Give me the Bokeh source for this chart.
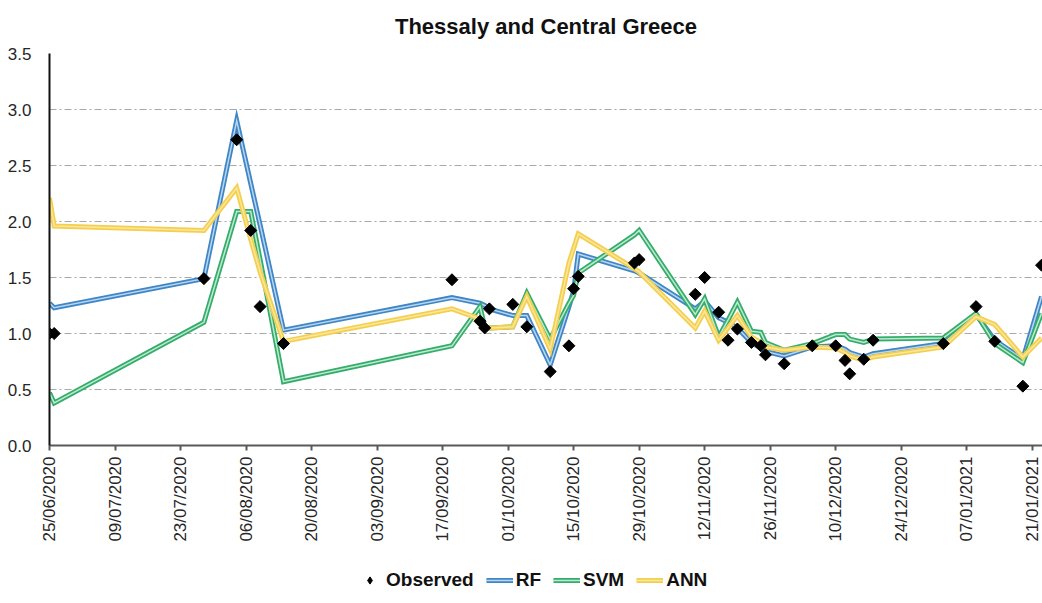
import math
import pandas as pd
from bokeh.plotting import figure
from bokeh.layouts import column
from bokeh.models import (FixedTicker, DatetimeTickFormatter, NumeralTickFormatter,
                          Legend, LegendItem, Range1d, ColumnDataSource)
from bokeh.embed import file_html
from bokeh.resources import INLINE

# ---------------- data ----------------
dates = ["2020-06-25", "2020-06-26", "2020-07-28", "2020-08-04", "2020-08-07", "2020-08-09",
         "2020-08-14", "2020-09-19", "2020-09-25", "2020-09-26", "2020-09-27", "2020-10-02",
         "2020-10-05", "2020-10-10", "2020-10-14", "2020-10-15", "2020-10-16", "2020-10-28",
         "2020-10-29", "2020-11-10", "2020-11-12", "2020-11-15", "2020-11-17", "2020-11-19",
         "2020-11-22", "2020-11-24", "2020-11-25", "2020-11-29", "2020-12-05", "2020-12-10",
         "2020-12-12", "2020-12-13", "2020-12-16", "2020-12-18", "2021-01-02", "2021-01-09",
         "2021-01-13", "2021-01-19", "2021-01-23"]
observed = [1.00, 1.00, 1.49, 2.73, 1.92, 1.24,
            0.91, 1.48, 1.11, 1.05, 1.22, 1.26,
            1.06, 0.66, 0.89, 1.40, 1.51, 1.63,
            1.66, 1.35, 1.50, 1.19, 0.94, 1.04,
            0.92, 0.89, 0.81, 0.73, 0.89, 0.89,
            0.76, 0.64, 0.77, 0.94, 0.91, 1.24,
            0.93, 0.53, 1.61]
rf = [1.27, 1.23, 1.49, 2.90, 2.34, 1.97,
      1.03, 1.32, 1.27, 1.25, 1.22, 1.16,
      1.16, 0.72, 1.24, 1.38, 1.71, 1.56,
      1.54, 1.22, 1.29, 1.14, 1.10, 1.05,
      0.92, 0.87, 0.84, 0.80, 0.88, 0.89,
      0.86, 0.83, 0.79, 0.82, 0.91, 1.17,
      0.94, 0.77, 1.33]
svm = [0.47, 0.38, 1.10, 2.09, 2.09, 1.66,
       0.57, 0.89, 1.24, 1.06, 1.05, 1.06,
       1.36, 0.95, 1.27, 1.34, 1.54, 1.88,
       1.92, 1.17, 1.31, 0.97, 1.12, 1.28,
       1.02, 1.01, 0.92, 0.85, 0.91, 0.99,
       0.99, 0.95, 0.92, 0.95, 0.96, 1.18,
       0.91, 0.74, 1.18]
ann = [2.21, 1.96, 1.92, 2.30, 1.84, 1.55,
       0.93, 1.22, 1.13, 1.06, 1.05, 1.06,
       1.33, 0.86, 1.63, 1.76, 1.89, 1.58,
       1.55, 1.05, 1.20, 0.94, 1.05, 1.16,
       0.97, 0.92, 0.88, 0.85, 0.88, 0.87,
       0.83, 0.80, 0.76, 0.79, 0.88, 1.15,
       1.08, 0.79, 0.96]
x_tick_dates = ["2020-06-25", "2020-07-09", "2020-07-23", "2020-08-06", "2020-08-20",
                "2020-09-03", "2020-09-17", "2020-10-01", "2020-10-15", "2020-10-29",
                "2020-11-12", "2020-11-26", "2020-12-10", "2020-12-24", "2021-01-07",
                "2021-01-21"]
y_ticks = [0.0, 0.5, 1.0, 1.5, 2.0, 2.5, 3.0, 3.5]
title_text = "Thessaly and Central Greece"
series_names = ["Observed", "RF", "SVM", "ANN"]

# ---------------- figure ----------------
FONT = "Liberation Sans"
W = 1042
src = ColumnDataSource(dict(x=pd.to_datetime(dates), obs=observed, rf=rf, svm=svm, ann=ann))

x0 = pd.Timestamp(x_tick_dates[0])
p = figure(width=W, height=548, x_axis_type="datetime",
           output_backend="svg", toolbar_location=None,
           x_range=Range1d(x0, x0 + pd.Timedelta(days=212.2)),
           y_range=Range1d(0, 3.5),
           min_border_left=49, min_border_right=0, min_border_top=53, min_border_bottom=103)
p.outline_line_color = None
p.background_fill_color = "white"

p.title.text = title_text
p.title.align = "center"
p.title.vertical_align = "top"
p.title.offset = -12
p.title.text_font = FONT
p.title.text_font_size = "22px"
p.title.text_font_style = "bold"
p.title.text_color = "#111111"
p.title.standoff = 26

# axes
p.xaxis.ticker = FixedTicker(ticks=[pd.Timestamp(d).timestamp() * 1000 for d in x_tick_dates])
fmt = "%d/%m/%Y"
p.xaxis.formatter = DatetimeTickFormatter(days=fmt, months=fmt, years=fmt, hours=fmt,
                                          minutes=fmt, seconds=fmt, milliseconds=fmt,
                                          microseconds=fmt, minsec=fmt, hourmin=fmt)
p.xaxis.major_label_orientation = math.pi / 2
p.xaxis.axis_line_color = "#595959"
p.xaxis.axis_line_width = 2
p.xaxis.major_tick_line_color = "#595959"
p.xaxis.major_tick_line_width = 2
p.xaxis.major_tick_out = 5
p.xaxis.major_tick_in = 0
p.xaxis.minor_tick_line_color = None
p.xaxis.major_label_standoff = 6

p.yaxis.ticker = FixedTicker(ticks=y_ticks)
p.yaxis.formatter = NumeralTickFormatter(format="0.0")
p.yaxis.axis_line_color = "#111111"
p.yaxis.axis_line_width = 2
p.yaxis.major_tick_line_color = None
p.yaxis.minor_tick_line_color = None
p.yaxis.major_label_standoff = 12

for ax in (p.xaxis, p.yaxis):
    ax.major_label_text_font = FONT
    ax.major_label_text_font_size = "17px"
    ax.major_label_text_color = "#262626"

p.xgrid.grid_line_color = None
p.ygrid.grid_line_color = "#a9a9a9"
p.ygrid.grid_line_dash = "7 3 2 3"
p.ygrid.grid_line_width = 1

# series (double lines)
styles = {
    "rf": ("#3f86c6", "#b9d6f0"),
    "svm": ("#34ad6c", "#bfe9cf"),
    "ann": ("#f4cf4f", "#fbe79c"),
}
keys = ["rf", "svm", "ann"]
for key in keys:
    outer, inner = styles[key]
    p.line("x", key, source=src, line_color=outer, line_width=5, line_join="miter")
    p.line("x", key, source=src, line_color=inner, line_width=1.5, line_join="miter")
p.scatter("x", "obs", source=src, marker="square", angle=math.pi / 4, size=8.5, color="black")

# ---------------- legend strip ----------------
# same data, drawn far outside this strip's visible range: only the legend glyphs show
lg = figure(width=W, height=50, output_backend="svg", toolbar_location=None,
            x_range=Range1d(0, 1), y_range=Range1d(0, 1),
            x_axis_location=None, y_axis_location=None,
            min_border_left=0, min_border_right=0, min_border_top=0, min_border_bottom=0)
lg.outline_line_color = None
lg.xgrid.grid_line_color = None
lg.ygrid.grid_line_color = None
items = [LegendItem(label=series_names[0],
                    renderers=[lg.scatter("x", "obs", source=src, marker="diamond",
                                          size=11, color="black")])]
for key, name in zip(keys, series_names[1:]):
    outer, inner = styles[key]
    r1 = lg.line("x", key, source=src, line_color=outer, line_width=5)
    r2 = lg.line("x", key, source=src, line_color=inner, line_width=1.5)
    items.append(LegendItem(label=name, renderers=[r1, r2]))

legend = Legend(items=items, orientation="horizontal", location=(307, 7),
                label_text_font=FONT, label_text_font_size="19px", label_text_font_style="bold",
                label_text_color="#111111", glyph_width=27, glyph_height=18,
                label_standoff=3, spacing=12, padding=2, margin=0,
                border_line_color=None, background_fill_alpha=0)
lg.add_layout(legend, "center")

open("out.html", "w").write(file_html(column(p, lg), INLINE))
